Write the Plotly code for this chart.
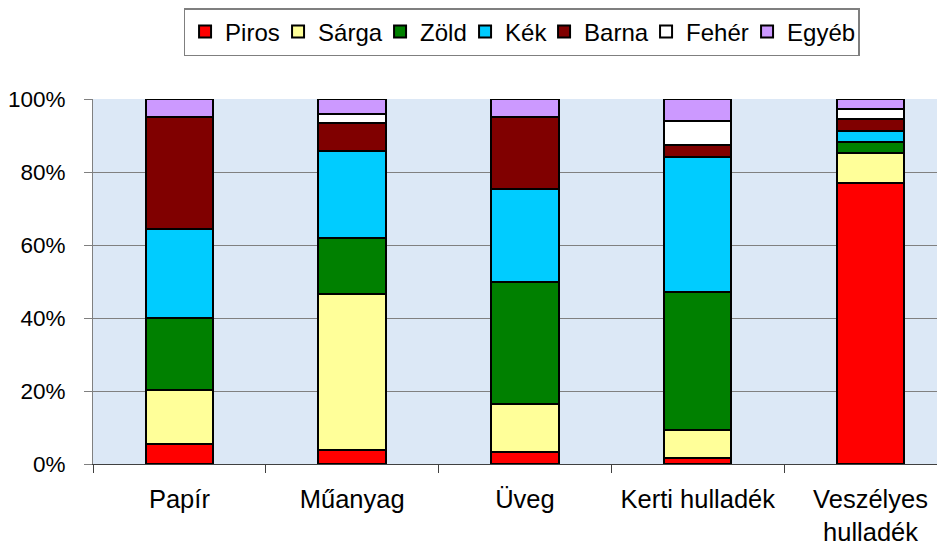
import plotly.graph_objects as go

categories = ["Papír", "Műanyag", "Üveg", "Kerti hulladék", "Veszélyes<br>hulladék"]
series_names = ["Piros", "Sárga", "Zöld", "Kék", "Barna", "Fehér", "Egyéb"]
piros = [5.5, 3.9, 3.4, 1.7, 77.0]
sarga = [14.7, 42.6, 13.1, 7.7, 8.2]
zold = [19.8, 15.3, 33.3, 37.7, 2.9]
kek = [24.5, 24.0, 25.6, 37.1, 3.2]
barna = [30.7, 7.7, 19.7, 3.2, 3.3]
feher = [0.0, 2.3, 0.0, 6.7, 2.7]
egyeb = [4.8, 4.2, 4.9, 5.9, 2.7]
colors = ["#FF0000", "#FFFF99", "#008000", "#00CCFF", "#800000", "#FFFFFF", "#CC99FF"]
y_ticks = [0, 20, 40, 60, 80, 100]
y_tick_labels = ["0%", "20%", "40%", "60%", "80%", "100%"]

values = [piros, sarga, zold, kek, barna, feher, egyeb]

# legend entry widths (px) to tighten the horizontal legend spacing
legend_entry_px = {"Piros": 48, "Sárga": 57, "Zöld": 40, "Kék": 34,
                   "Barna": 57, "Fehér": 56, "Egyéb": 66}

fig = go.Figure()
for name, vals, col in zip(series_names, values, colors):
    fig.add_trace(go.Bar(
        x=categories, y=vals, name=name,
        marker=dict(color=col, line=dict(color="#000000", width=2)),
        width=0.39,
        legendwidth=legend_entry_px[name],
    ))

font = "Liberation Sans, Arial, sans-serif"
fig.update_layout(
    barmode="stack",
    width=937, height=540,
    margin=dict(l=85, r=0, t=91, b=84, pad=0, autoexpand=False),
    paper_bgcolor="white",
    plot_bgcolor="#dce8f6",
    font=dict(family=font, size=24, color="black"),
    showlegend=True,
    legend=dict(
        orientation="h", x=0.503, xanchor="center", y=1.0, yanchor="top",
        xref="paper", yref="container",
        traceorder="normal",
        bordercolor="#7f7f7f", borderwidth=1.5,
        font=dict(size=24, family=font),
        itemwidth=30,
    ),
    xaxis=dict(
        type="category",
        range=[-0.5, 4.431],
        showgrid=False, zeroline=False,
        showline=True, linecolor="#404040", linewidth=1,
        ticks="outside", tickson="boundaries", ticklen=8, tickcolor="#404040",
        ticklabelstandoff=12,
        tickfont=dict(size=25.5, family=font),
    ),
    yaxis=dict(
        range=[0, 100], tickvals=y_ticks, ticktext=y_tick_labels,
        showgrid=True, gridcolor="#808080", gridwidth=1,
        zeroline=False,
        showline=True, linecolor="#808080", linewidth=1,
        ticks="outside", ticklen=8, tickcolor="#808080",
        ticklabelstandoff=14,
        tickfont=dict(size=22.5, family=font),
    ),
)

fig.write_html("out.html")
